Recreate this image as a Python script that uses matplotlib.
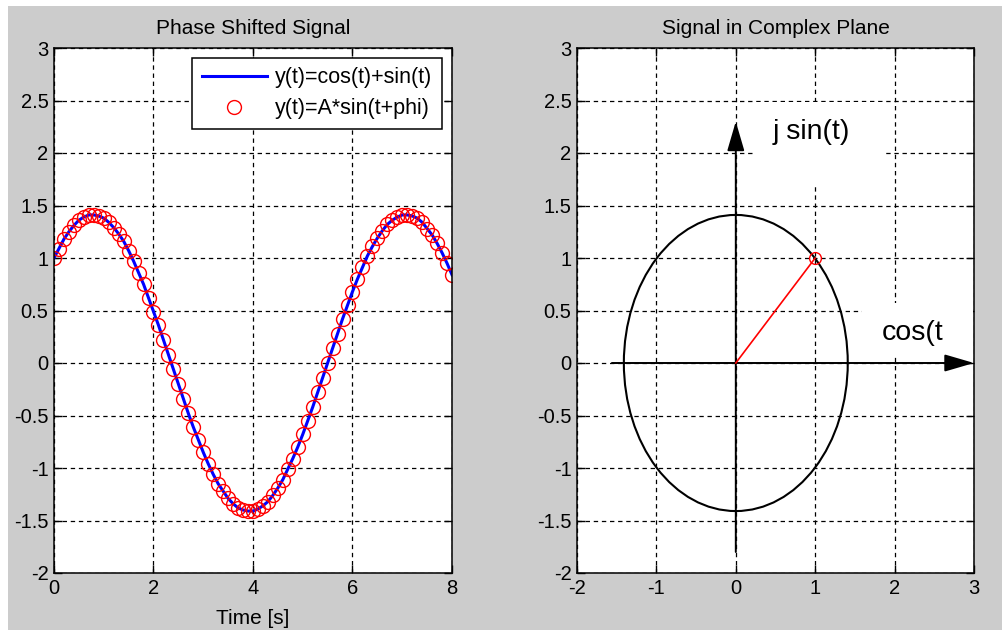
import numpy as np
import matplotlib.pyplot as plt
from matplotlib.patches import Circle, Rectangle

plt.rcParams['font.family'] = ['Liberation Sans', 'DejaVu Sans']

# signal samples, t = 0:0.1:8
t_step = 0.1
y_signal = [1.00, 1.09, 1.18, 1.25, 1.31, 1.36, 1.39, 1.41, 1.41, 1.40,
            1.38, 1.34, 1.29, 1.23, 1.16, 1.07, 0.97, 0.86, 0.75, 0.62,
            0.49, 0.36, 0.22, 0.08, -0.06, -0.20, -0.34, -0.48, -0.61, -0.73,
            -0.85, -0.96, -1.06, -1.15, -1.22, -1.29, -1.34, -1.38, -1.40, -1.41,
            -1.41, -1.39, -1.36, -1.32, -1.26, -1.19, -1.11, -1.01, -0.91, -0.80,
            -0.68, -0.55, -0.42, -0.28, -0.14, 0.00, 0.14, 0.28, 0.42, 0.55,
            0.68, 0.80, 0.91, 1.02, 1.11, 1.19, 1.26, 1.32, 1.36, 1.39,
            1.41, 1.41, 1.40, 1.38, 1.34, 1.28, 1.22, 1.14, 1.05, 0.95,
            0.84]
time = np.arange(len(y_signal)) * t_step

# complex plane
radius = 1.41
point_re, point_im = 1.0, 1.0
re_axis = [-1.56, 3.0]
im_axis = [-1.8, 2.3]

FS = 14.5
GRID = dict(color='k', linestyle=(0, (3.5, 3)), linewidth=0.9)


def matlab_axes(ax, xlim, ylim, xticks, yticks):
    ax.set_facecolor('white')
    ax.set_xlim(xlim)
    ax.set_ylim(ylim)
    ax.set_xticks(xticks)
    ax.set_yticks(yticks)
    ax.set_xticklabels([f'{v:g}' for v in xticks])
    ax.set_yticklabels([f'{v:g}' for v in yticks])
    ax.tick_params(direction='in', top=True, right=True, length=6, width=1,
                   labelsize=FS, pad=4)
    for s in ax.spines.values():
        s.set_linewidth(1.1)
    ax.set_axisbelow(True)
    ax.grid(True, **GRID)


fig = plt.figure(figsize=(10.03, 6.30), dpi=100)
fig.patch.set_facecolor('white')
fig.add_artist(Rectangle((8 / 1003, 0), 1, 1 - 6 / 630, transform=fig.transFigure,
                         facecolor='#cccccc', edgecolor='none', zorder=-10))

# left panel
ax1 = fig.add_axes([54 / 1003, 57 / 630, 398 / 1003, 525 / 630])
matlab_axes(ax1, (0, 8), (-2, 3), np.arange(0, 9, 2), np.arange(-2, 3.01, 0.5))
ax1.plot(time, y_signal, color='b', lw=2.2, label='y(t)=cos(t)+sin(t)')
ax1.plot(time, y_signal, 'o', mfc='none', mec='r', ms=10, mew=1,
         label='y(t)=A*sin(t+phi)')
ax1.set_title('Phase Shifted Signal', fontsize=15, pad=10)
ax1.set_xlabel('Time [s]', fontsize=15, labelpad=8)
leg = ax1.legend(loc='upper right', fontsize=15.5, fancybox=False, framealpha=1,
                 edgecolor='k', borderaxespad=0.45, handlelength=3.0,
                 handletextpad=0.4, labelspacing=0.45, borderpad=0.45)
leg.get_frame().set_linewidth(1.1)

# right panel
ax2 = fig.add_axes([577 / 1003, 57 / 630, 397 / 1003, 525 / 630])
matlab_axes(ax2, (-2, 3), (-2, 3), np.arange(-2, 4, 1), np.arange(-2, 3.01, 0.5))
ax2.set_title('Signal in Complex Plane', fontsize=15, pad=10)

# white text backgrounds hiding the grid
ax2.add_patch(Rectangle((0.22, 1.70), 1.66, 0.79, facecolor='white',
                        edgecolor='none', zorder=1))
ax2.add_patch(Rectangle((1.59, 0.08), 1.40, 0.49, facecolor='white',
                        edgecolor='none', zorder=1))

ax2.add_patch(Circle((0, 0), radius, fill=False, edgecolor='k', lw=1.5, zorder=2))
arrow = dict(arrowstyle='-|>,head_length=1.3,head_width=0.38', color='k',
             lw=1.4, shrinkA=0, shrinkB=0, mutation_scale=14)
ax2.annotate('', xy=(re_axis[1], 0), xytext=(re_axis[0], 0), arrowprops=arrow)
ax2.annotate('', xy=(0, im_axis[1]), xytext=(0, im_axis[0]), arrowprops=arrow)
ax2.plot([0, point_re], [0, point_im], color='r', lw=1.2, zorder=3)
ax2.plot([point_re], [point_im], 'o', mfc='none', mec='r', ms=8.5, mew=1, zorder=4)
ax2.text(0.47, 2.2, 'j sin(t)', fontsize=20.5, va='center', ha='left', zorder=5)
ax2.text(1.84, 0.29, 'cos(t', fontsize=20.5, va='center', ha='left', zorder=5)

fig.savefig('out.png', dpi=100, facecolor=fig.get_facecolor())
